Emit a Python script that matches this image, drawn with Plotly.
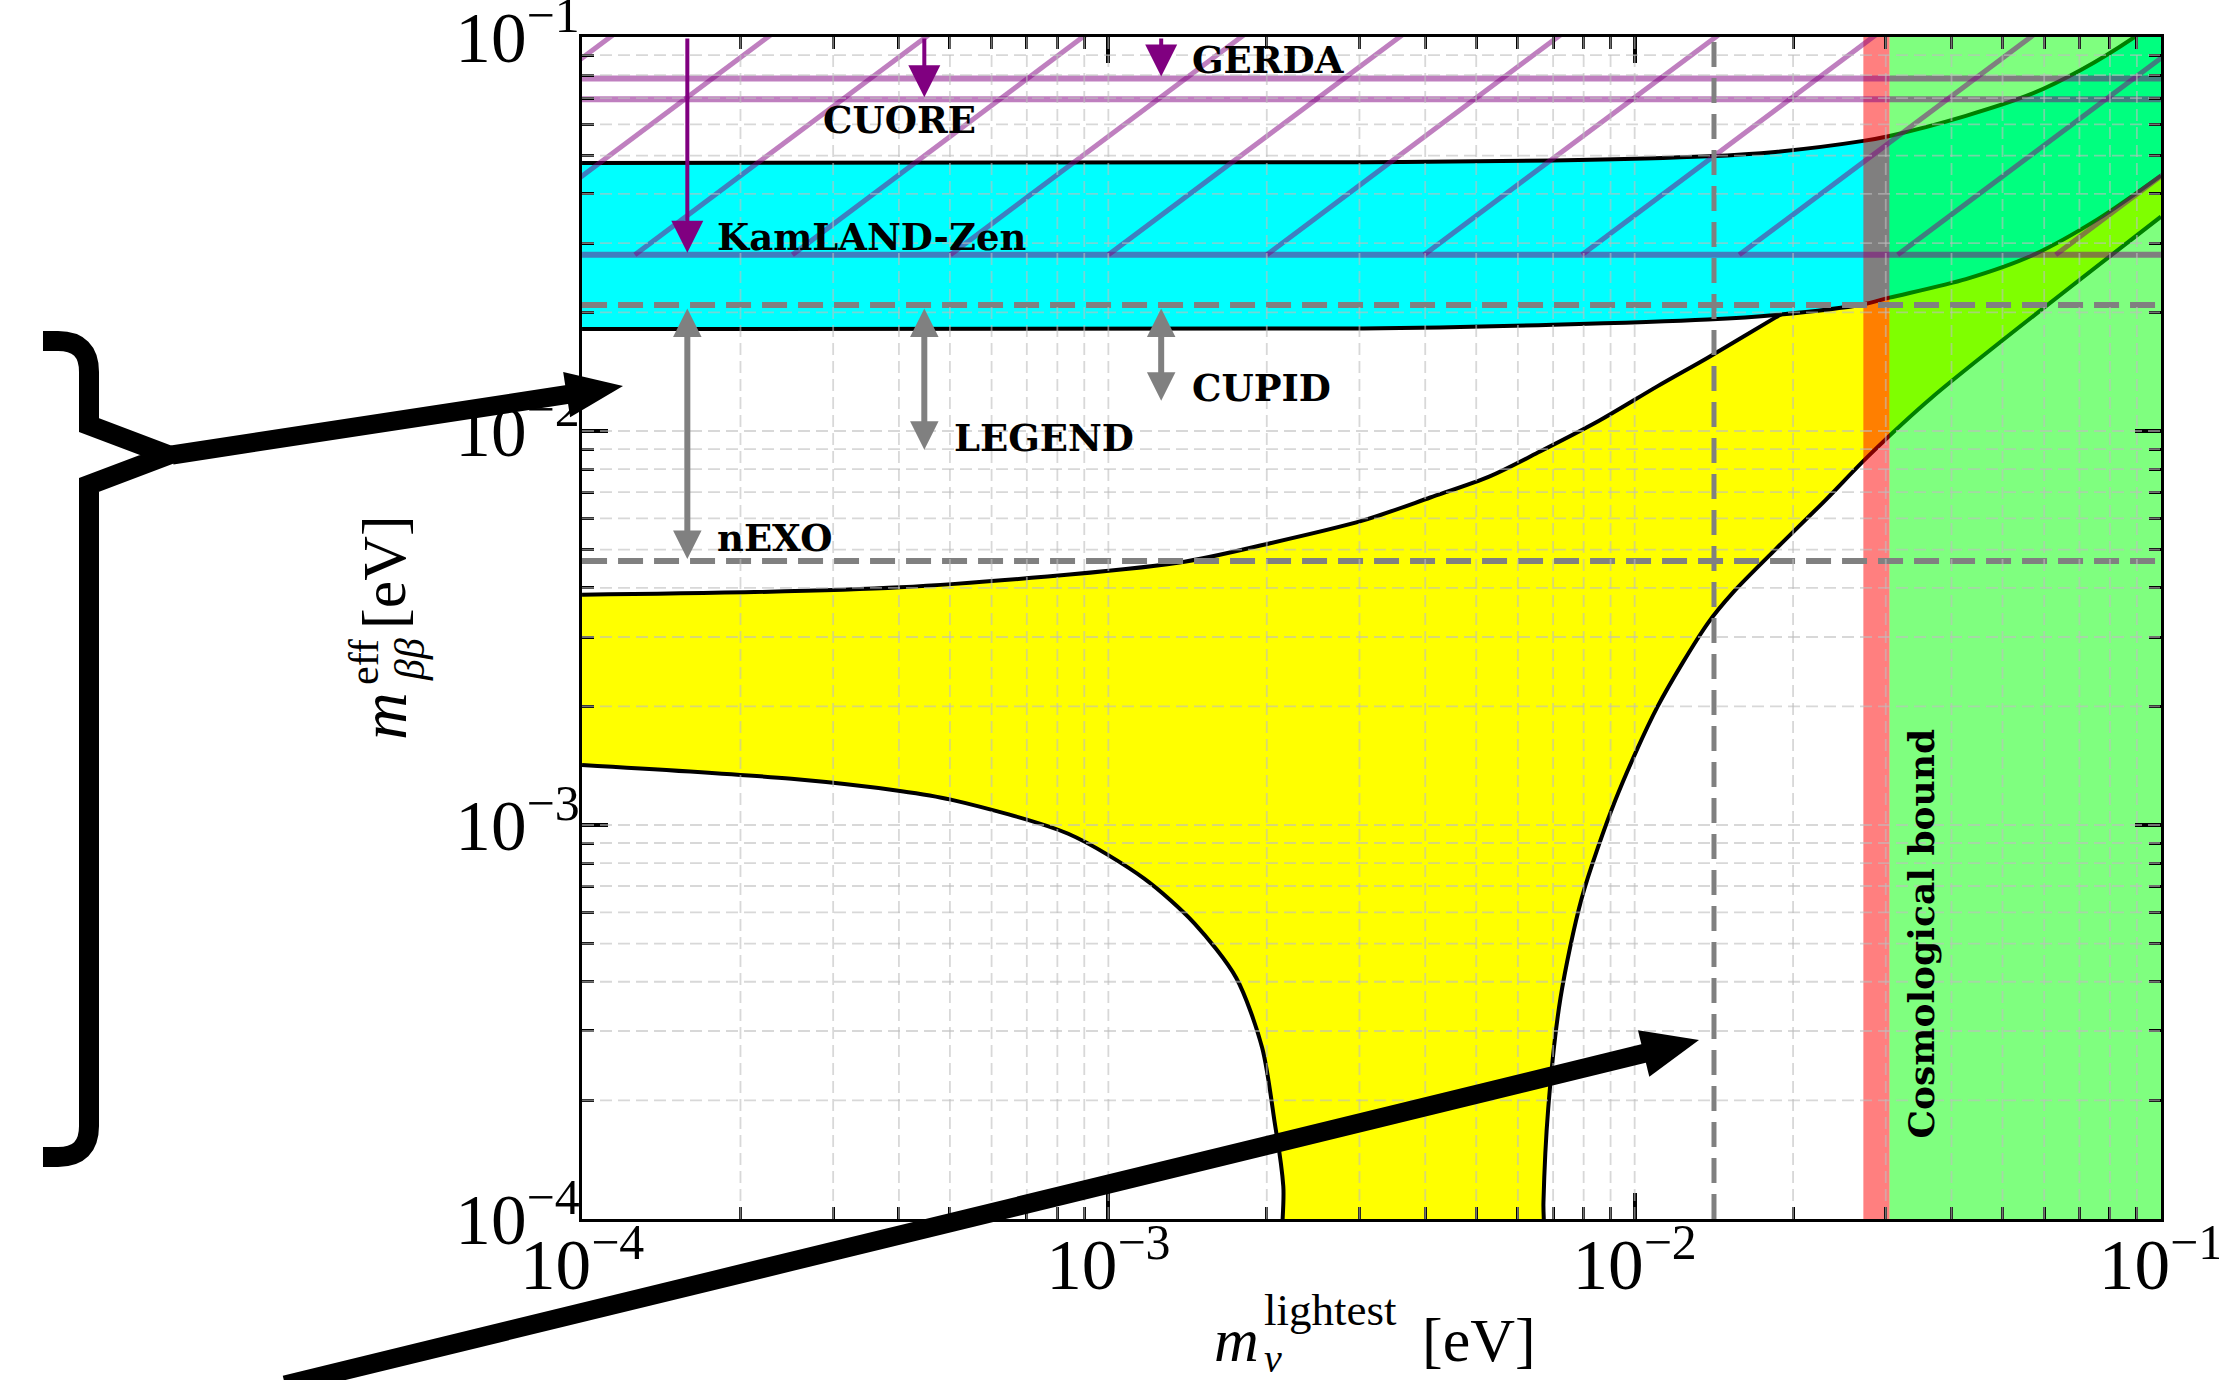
import numpy as np
import plotly.graph_objects as go

# ---------------- data (all masses in eV) ----------------
# normal ordering band
no_upper_x = [1.0e-4, 4.02e-4, 1.355e-3, 2.03e-3, 3.05e-3, 4.09e-3, 5.29e-3, 6.61e-3,
              8.54e-3, 1.106e-2, 1.377e-2, 1.85e-2, 2.72e-2, 4.26e-2, 1.0e-1]
no_upper_y = [3.84e-3, 4.01e-3, 4.63e-3, 5.19e-3, 5.93e-3, 6.78e-3, 7.66e-3, 8.87e-3,
              1.06e-2, 1.30e-2, 1.535e-2, 1.94e-2, 2.6e-2, 4.0e-2, 9.5e-2]
# lower edge: left branch, the part below the axis (cancellation region), right branch
no_lower_x = [1.0e-4, 2.5e-4, 4.02e-4, 5.02e-4, 8.39e-4, 1.17e-3, 1.457e-3, 1.75e-3,
              1.96e-3, 2.07e-3, 2.15e-3, 2.19e-3,
              6.66e-3, 6.71e-3, 6.85e-3, 7.23e-3, 7.93e-3, 9.2e-3, 1.106e-2, 1.377e-2,
              1.54e-2, 1.85e-2, 2.31e-2, 2.77e-2, 3.68e-2, 1.0e-1]
no_lower_y = [1.42e-3, 1.31e-3, 1.22e-3, 1.16e-3, 9.5e-4, 7.31e-4, 5.63e-4, 4.09e-4,
              2.72e-4, 1.76e-4, 1.21e-4, 1.0e-5,
              1.0e-5, 1.1e-4, 1.9e-4, 3.64e-4, 6.51e-4, 1.16e-3, 2.0e-3, 3.25e-3,
              3.9e-3, 5.0e-3, 6.7e-3, 8.6e-3, 1.22e-2, 3.5e-2]

# inverted ordering band
io_upper_x = [1.0e-4, 3.05e-3, 7.0e-3, 1.377e-2, 1.85e-2, 2.72e-2, 3.05e-2, 4.26e-2,
              5.69e-2, 7.07e-2, 8.91e-2, 1.0e-1]
io_upper_y = [0.0479, 0.0481, 0.0486, 0.0498, 0.0511, 0.0545, 0.0561, 0.0631,
              0.0718, 0.0827, 0.100, 0.112]
io_lower_x = [1.0e-4, 3.05e-3, 7.0e-3, 1.377e-2, 1.85e-2, 2.71e-2, 3.05e-2, 4.26e-2,
              5.69e-2, 7.59e-2, 1.0e-1]
io_lower_y = [0.01815, 0.0182, 0.0186, 0.01918, 0.0197, 0.02095, 0.0218, 0.0243,
              0.0279, 0.0345, 0.0445]

# excluded / bound regions in m_lightest
red_band = [0.0272, 0.0305]
cosmo_band = [0.0305, 0.1]

# current limits (purple) and future sensitivities (grey)
current_names = ["GERDA", "CUORE", "KamLAND-Zen"]
current_limits = [0.0785, 0.0695, 0.028]
current_arrow_x = [1.26e-3, 4.47e-4, 1.585e-4]
future_names = ["CUPID", "LEGEND", "nEXO"]
future_reach = [0.0118, 0.00886, 0.00468]
future_arrow_x = [1.26e-3, 4.47e-4, 1.585e-4]
future_start = 0.0209          # common starting level of the future arrows
ref_m_lightest = 0.01415       # vertical dashed reference

# KamLAND-Zen hatched range: 28 - 122 meV
kz_range = [0.028, 0.122]
hatch_x_start = [3.16e-5, 6.31e-5, 1.26e-4, 2.51e-4, 5.01e-4, 1.0e-3, 2.0e-3,
                 3.98e-3, 7.94e-3, 1.58e-2, 3.16e-2, 6.31e-2]
hatch_x_end = [1.38e-4, 2.75e-4, 5.49e-4, 1.09e-3, 2.18e-3, 4.36e-3, 8.71e-3,
               1.74e-2, 3.46e-2, 6.90e-2, 1.38e-1, 2.75e-1]

# label positions (eV)
label_names = ["GERDA", "CUORE", "KamLAND-Zen", "CUPID", "LEGEND", "nEXO"]
label_x = [1.43e-3, 2.84e-4, 1.79e-4, 1.43e-3, 5.05e-4, 1.79e-4]
label_y = [0.0874, 0.0615, 0.031, 0.01285, 0.0096, 0.00535]

# ---------------- page geometry ----------------
W, H = 2219, 1380
ML, MR, MT, MB = 582, 58, 37, 161
PW, PH = W - ML - MR, H - MT - MB

SERIF = "Liberation Serif"
BOLD = "DejaVu Serif"
SMOOTH = dict(shape="spline", smoothing=0.8)
EDGE_W = 4


def paper(px, py):
    return (px - ML) / PW, (H - MB - py) / PH


fig = go.Figure()

# normal ordering (yellow) : lower edge, then upper edge filled down to it
fig.add_trace(go.Scatter(x=no_lower_x, y=no_lower_y, mode="lines",
                         line=dict(color="black", width=EDGE_W, **SMOOTH),
                         hoverinfo="skip", showlegend=False))
fig.add_trace(go.Scatter(x=no_upper_x, y=no_upper_y, mode="lines", fill="tonexty",
                         fillcolor="#ffff00",
                         line=dict(color="black", width=EDGE_W, **SMOOTH),
                         hoverinfo="skip", showlegend=False))

# inverted ordering (cyan)
fig.add_trace(go.Scatter(x=io_lower_x, y=io_lower_y, mode="lines",
                         line=dict(color="black", width=EDGE_W, **SMOOTH),
                         hoverinfo="skip", showlegend=False))
fig.add_trace(go.Scatter(x=io_upper_x, y=io_upper_y, mode="lines", fill="tonexty",
                         fillcolor="#00ffff",
                         line=dict(color="black", width=EDGE_W, **SMOOTH),
                         hoverinfo="skip", showlegend=False))

# translucent vertical bands
for band, col in [(red_band, "rgba(255,0,0,0.5)"), (cosmo_band, "rgba(0,255,0,0.5)")]:
    fig.add_trace(go.Scatter(
        x=[band[0], band[1], band[1], band[0], band[0]],
        y=[1e-4, 1e-4, 1e-1, 1e-1, 1e-4],
        fill="toself", fillcolor=col, mode="lines", line=dict(width=0),
        hoverinfo="skip", showlegend=False))

PURPLE = "rgba(128,0,128,0.5)"
# hatching of the KamLAND-Zen range
hx, hy = [], []
for a, b in zip(hatch_x_start, hatch_x_end):
    hx += [a, b, None]
    hy += [kz_range[0], kz_range[1], None]
fig.add_trace(go.Scatter(x=hx, y=hy, mode="lines", line=dict(color=PURPLE, width=5),
                         hoverinfo="skip", showlegend=False))
# current experimental limits
for lim in current_limits:
    fig.add_trace(go.Scatter(x=[1e-4, 1e-1], y=[lim, lim], mode="lines",
                             line=dict(color=PURPLE, width=6),
                             hoverinfo="skip", showlegend=False))

# dashed reference lines
DASH = "25px,11px"
for lev in [future_start, future_reach[2]]:
    fig.add_trace(go.Scatter(x=[1e-4, 1e-1], y=[lev, lev], mode="lines",
                             line=dict(color="#808080", width=6, dash=DASH),
                             hoverinfo="skip", showlegend=False))
fig.add_trace(go.Scatter(x=[ref_m_lightest, ref_m_lightest], y=[1e-4, 1e-1], mode="lines",
                         line=dict(color="#808080", width=5, dash=DASH),
                         hoverinfo="skip", showlegend=False))

# ---------------- grid drawn on top of the filled regions ----------------
shapes = []
grid_vals = [k * 10.0 ** n for n in (-4, -3, -2) for k in range(1, 10)][1:]
GRID = dict(color="rgba(190,190,190,0.6)", width=1.8, dash="12px,6px")
for v in grid_vals:
    shapes.append(dict(type="line", xref="x", yref="paper", x0=v, x1=v, y0=0, y1=1,
                       line=GRID, layer="above"))
    shapes.append(dict(type="line", xref="paper", yref="y", x0=0, x1=1, y0=v, y1=v,
                       line=GRID, layer="above"))


# ---------------- decorative brace and arrows ----------------
def arrow(tail, tip, shaft_w, head_len, head_w):
    (tx, ty), (hx_, hy_) = tail, tip
    d = np.hypot(hx_ - tx, hy_ - ty)
    ux, uy = (hx_ - tx) / d, (hy_ - ty) / d
    bx, by = hx_ - head_len * ux, hy_ - head_len * uy
    nx, ny = -uy, ux
    x0, y0 = paper(tx, ty)
    x1, y1 = paper(bx + 3 * ux, by + 3 * uy)
    out = [dict(type="line", xref="paper", yref="paper", x0=x0, y0=y0, x1=x1, y1=y1,
                line=dict(color="black", width=shaft_w), layer="above")]
    pts = [(hx_, hy_), (bx + head_w / 2 * nx, by + head_w / 2 * ny),
           (bx - head_w / 2 * nx, by - head_w / 2 * ny)]
    path = "M " + " L ".join("%.5f,%.5f" % paper(*p) for p in pts) + " Z"
    out.append(dict(type="path", xref="paper", yref="paper", path=path,
                    fillcolor="black", line=dict(width=0), layer="above"))
    return out


brace_pts = [("M", (43, 341)), ("L", (58, 341)), ("Q", (89, 341), (89, 372)),
             ("L", (89, 425)), ("L", (168, 455)), ("L", (89, 485)), ("L", (89, 1126)),
             ("Q", (89, 1157), (58, 1157)), ("L", (43, 1157))]
brace_path = ""
for cmd, *pts in brace_pts:
    brace_path += cmd + " " + " ".join("%.5f,%.5f" % paper(*p) for p in pts) + " "
shapes.append(dict(type="path", xref="paper", yref="paper", path=brace_path,
                   line=dict(color="black", width=20), layer="above"))
shapes += arrow((172, 455), (623, 386), 19, 57, 46)
shapes += arrow((285, 1385), (1699, 1040), 19, 57, 48)

# ---------------- annotations ----------------
L10 = np.log10
ann = []
for xa, lim in zip(current_arrow_x, current_limits):
    ann.append(dict(x=L10(xa), y=L10(lim), ax=L10(xa), ay=L10(0.1),
                    xref="x", yref="y", axref="x", ayref="y", text="",
                    showarrow=True, arrowhead=2, arrowsize=1.6, arrowwidth=4,
                    arrowcolor="#800080", standoff=2))
for xa, reach in zip(future_arrow_x, future_reach):
    ann.append(dict(x=L10(xa), y=L10(reach), ax=L10(xa), ay=L10(future_start),
                    xref="x", yref="y", axref="x", ayref="y", text="",
                    showarrow=True, arrowhead=2, arrowsize=0.95, arrowwidth=6,
                    arrowside="end+start", startarrowhead=2, startarrowsize=0.95,
                    arrowcolor="#808080", standoff=2, startstandoff=2))
for name, lx, ly in zip(label_names, label_x, label_y):
    ann.append(dict(x=L10(lx), y=L10(ly), xref="x", yref="y", text="<b>%s</b>" % name,
                    showarrow=False, xanchor="left", yanchor="middle",
                    font=dict(family=BOLD, size=37, color="black")))
ann.append(dict(x=L10(0.035), y=L10(5.3e-4), xref="x", yref="y",
                text="<b>Cosmological bound</b>", textangle=-90, showarrow=False,
                font=dict(family=BOLD, size=36, color="black")))


def title_piece(px, py, text, size, anchor="center", angle=0):
    x, y = paper(px, py)
    return dict(x=x, y=y, xref="paper", yref="paper", text=text, showarrow=False,
                xanchor=anchor, yanchor="middle", textangle=angle,
                font=dict(family=SERIF, size=size, color="black"))


# x-axis title: m_nu^lightest [eV]
ann += [
    title_piece(1236, 1340, "<i>m</i>", 62),
    title_piece(1273, 1358, "<i>ν</i>", 40),
    title_piece(1262, 1310, "lightest", 45, anchor="left"),
    title_piece(1420, 1340, "[eV]", 62, anchor="left"),
]
# y-axis title: m_bb^eff [eV]
ann += [
    title_piece(384, 716, "<i>m</i>", 66, angle=-90),
    title_piece(410, 660, "<i>ββ</i>", 42, angle=-90),
    title_piece(364, 662, "eff", 42, angle=-90),
    title_piece(384, 572, "[eV]", 62, angle=-90),
]

axis_common = dict(
    type="log", range=[-4.0001, -0.9999], dtick=1, exponentformat="power",
    showexponent="all", showgrid=False, zeroline=False, showline=True,
    linecolor="black", linewidth=3, mirror="ticks", ticks="inside", ticklen=26,
    tickwidth=3.5, tickcolor="black", ticklabeloverflow="allow",
    tickfont=dict(family=SERIF, size=57, color="black"),
    minor=dict(ticks="inside", ticklen=12, tickwidth=3, tickcolor="black",
               dtick="D1", showgrid=False),
)

fig.update_layout(
    width=W, height=H, margin=dict(l=ML, r=MR, t=MT, b=MB, autoexpand=False),
    paper_bgcolor="white", plot_bgcolor="white", showlegend=False,
    xaxis=dict(axis_common, ticklabelstandoff=-16),
    yaxis=dict(axis_common, ticklabelstandoff=-12),
    shapes=shapes, annotations=ann,
)

fig.write_html("out.html")
